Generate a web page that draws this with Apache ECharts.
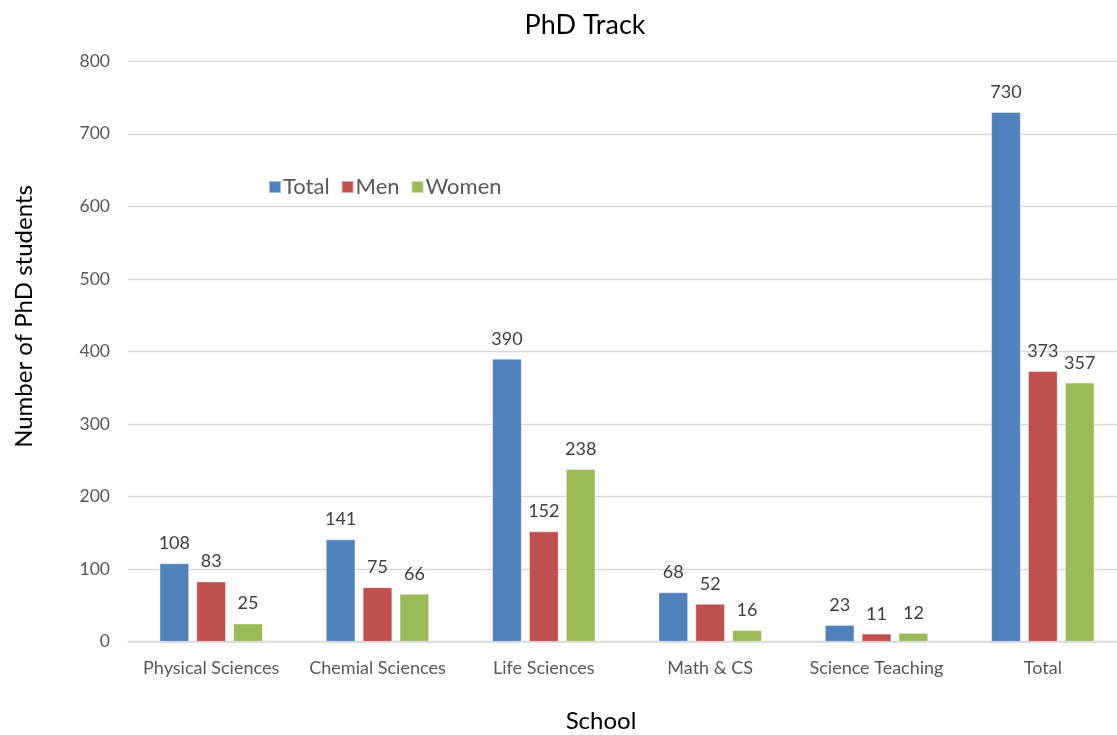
<!DOCTYPE html>
<html>
<head>
<meta charset="utf-8">
<script src="https://cdn.jsdelivr.net/npm/echarts@6/dist/echarts.min.js"></script>
<style>html,body{margin:0;padding:0;background:#fff;}#c{width:1117px;height:735px;}</style>
</head>
<body>
<div id="c"></div>
<script>
var categories = ['Physical Sciences', 'Chemial Sciences', 'Life Sciences', 'Math & CS', 'Science Teaching', 'Total'];
var totalValues = [108, 141, 390, 68, 23, 730];
var menValues = [83, 75, 152, 52, 11, 373];
var womenValues = [25, 66, 238, 16, 12, 357];
var yTicks = [0, 100, 200, 300, 400, 500, 600, 700, 800];

var FONT = 'Lato, "Open Sans", sans-serif';
var chart = echarts.init(document.getElementById('c'));
function mk(name, data, color) {
  return {
    name: name, type: 'bar', data: data, barWidth: 29.5, barGap: '25%',
    itemStyle: { color: color, borderColor: 'rgba(255,255,255,0.5)', borderWidth: 0.8 },
    label: { show: true, position: 'top', distance: 11, color: '#404040', fontSize: 18, fontFamily: FONT }
  };
}
chart.setOption({
  animation: false,
  title: { text: 'PhD Track', left: 580, top: 7, textAlign: 'center',
    textStyle: { fontFamily: FONT, fontSize: 27, fontWeight: 'normal', color: '#000' } },
  legend: { left: 263, top: 171, itemWidth: 12, itemHeight: 12, itemGap: 11,
    icon: 'rect', textStyle: { fontFamily: FONT, fontSize: 22, color: '#595959', padding: [0, 0, 0, -3] },
    data: ['Total', 'Men', 'Women'] },
  grid: { left: 128, top: 61.3, width: 998, height: 580.4, containLabel: false, outerBoundsMode: 'none' },
  xAxis: {
    type: 'category', data: categories,
    name: 'School', nameLocation: 'middle', nameGap: 68,
    nameTextStyle: { fontFamily: FONT, fontSize: 24, color: '#000', padding: [0, 52, 0, 0] },
    axisLine: { lineStyle: { color: '#d9d9d9', width: 1.5 } },
    axisTick: { show: false },
    axisLabel: { interval: 0, fontFamily: FONT, fontSize: 18, color: '#595959', margin: 17 }
  },
  yAxis: {
    type: 'value', min: yTicks[0], max: yTicks[yTicks.length - 1], interval: 100,
    name: 'Number of PhD students', nameLocation: 'middle', nameGap: 92, nameRotate: 90,
    nameTextStyle: { fontFamily: FONT, fontSize: 24, color: '#000', padding: [0, 0, 0, 70] },
    axisLine: { show: false }, axisTick: { show: false },
    splitLine: { lineStyle: { color: '#d9d9d9', width: 1.3 } },
    axisLabel: { fontFamily: FONT, fontSize: 17.5, color: '#595959', margin: 18 }
  },
  series: [mk('Total', totalValues, '#4F81BD'), mk('Men', menValues, '#C0504D'), mk('Women', womenValues, '#9BBB59')]
});
</script>
</body>
</html>
